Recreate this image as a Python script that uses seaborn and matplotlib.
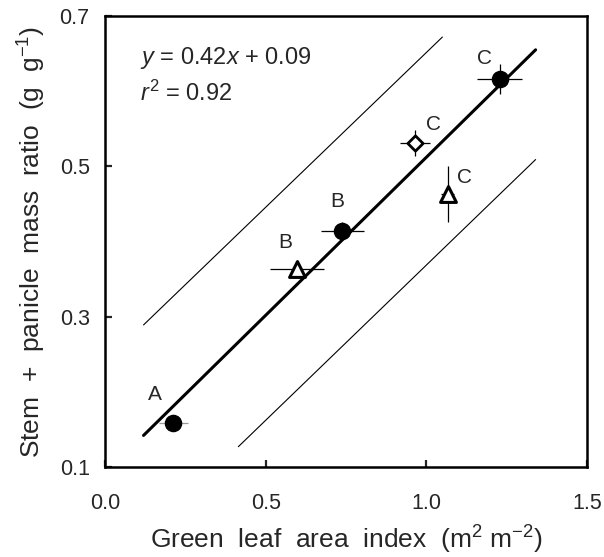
import numpy as np
import pandas as pd
import matplotlib
matplotlib.use("Agg")
import matplotlib.pyplot as plt
import seaborn as sns

# ---- data ----
glai = [0.213, 0.597, 0.739, 0.965, 1.066, 1.228]
glai_err = [0.045, 0.083, 0.066, 0.046, 0.02, 0.071]
ratio = [0.159, 0.363, 0.414, 0.531, 0.463, 0.616]
ratio_err = [0.0, 0.0, 0.012, 0.017, 0.037, 0.020]
shape = ["circle", "triangle", "circle", "diamond", "triangle", "circle"]
letter = ["A", "B", "B", "C", "C", "C"]
# letter offsets (points) relative to each marker
letter_dx = [-13, -8, -4, 13, 12, -11]
letter_dy = [20, 19, 21, 13, 12, 15]

# regression line and its band
fit_x = [0.12, 1.34]
fit_y = [0.142, 0.655]
upper_x = [0.12, 1.05]
upper_y = [0.289, 0.672]
lower_x = [0.415, 1.34]
lower_y = [0.127, 0.509]

xticks = [0.0, 0.5, 1.0, 1.5]
yticks = [0.1, 0.3, 0.5, 0.7]

df = pd.DataFrame({"glai": glai, "ratio": ratio, "shape": shape})

sns.set_theme(style="ticks")
plt.rcParams["font.family"] = ["Liberation Sans", "DejaVu Sans"]
plt.rcParams["mathtext.fontset"] = "custom"
plt.rcParams["mathtext.rm"] = "Liberation Sans"
plt.rcParams["mathtext.it"] = "Liberation Sans:italic"

fig = plt.figure(figsize=(6.04, 5.57), dpi=100)
ax = fig.add_axes([0.1738, 0.1616, 0.7981, 0.8097])

# lines
sns.lineplot(x=fit_x, y=fit_y, color="black", linewidth=2.2, ax=ax)
sns.lineplot(x=upper_x, y=upper_y, color="black", linewidth=0.8, ax=ax)
sns.lineplot(x=lower_x, y=lower_y, color="black", linewidth=0.8, ax=ax)

# error bars
for i in range(len(glai)):
    ecol = "#9a9a9a" if letter[i] == "A" else "black"
    ax.errorbar(glai[i], ratio[i], xerr=glai_err[i], yerr=ratio_err[i],
                fmt="none", ecolor=ecol, elinewidth=0.9, capsize=0, zorder=3)

# markers
styles = {
    "circle": dict(marker="o", s=135, facecolor="black", edgecolor="black", linewidth=1),
    "triangle": dict(marker="^", s=130, facecolor="white", edgecolor="black", linewidth=2.2),
    "diamond": dict(marker="D", s=60, facecolor="white", edgecolor="black", linewidth=2.0),
}
for key, st in styles.items():
    sub = df[df["shape"] == key]
    sns.scatterplot(data=sub, x="glai", y="ratio", ax=ax, zorder=4, legend=False, **st)

# letters
for i in range(len(glai)):
    ax.annotate(letter[i], (glai[i], ratio[i]), xytext=(letter_dx[i], letter_dy[i]),
                textcoords="offset points", ha="center", va="center", fontsize=15)

ax.text(0.073, 0.907, r"$y$ = 0.42$x$ + 0.09", transform=ax.transAxes,
        fontsize=17, ha="left", va="center")
ax.text(0.073, 0.829, r"$r^2$ = 0.92", transform=ax.transAxes,
        fontsize=17, ha="left", va="center")

ax.set_xlim(0.0, 1.5)
ax.set_ylim(0.1, 0.7)
ax.set_xticks(xticks)
ax.set_yticks(yticks)
ax.set_xticklabels([f"{v:.1f}" for v in xticks])
ax.set_yticklabels([f"{v:.1f}" for v in yticks])
ax.tick_params(axis="both", direction="in", length=5, width=1.6, labelsize=15.5)
ax.tick_params(axis="x", pad=19)
ax.tick_params(axis="y", pad=11)
for sp in ax.spines.values():
    sp.set_visible(True)
    sp.set_linewidth(1.8)
    sp.set_color("black")

ax.set_xlabel(r"Green  leaf  area  index  (m$^2$ m$^{-2}$)", fontsize=19, labelpad=7)
ax.set_ylabel(r"Stem  +  panicle  mass  ratio  (g  g$^{-1}$)", fontsize=19, labelpad=8)

fig.savefig("out.png", dpi=100)
